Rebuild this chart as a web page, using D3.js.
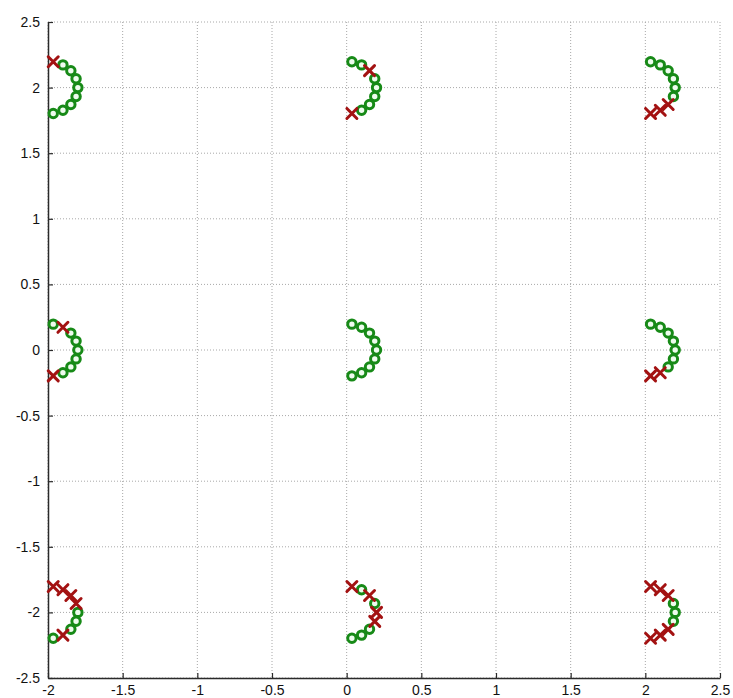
<!DOCTYPE html>
<html>
<head>
<meta charset="utf-8">
<script src="https://cdn.jsdelivr.net/npm/d3@7"></script>
<style>
  html, body { margin: 0; padding: 0; background: #fff; }
  svg { display: block; }
  .tick text { font-family: "Liberation Sans", Arial, sans-serif; font-size: 14px; fill: #111; }
</style>
</head>
<body>
<svg id="chart" width="733" height="698"></svg>
<script>
// Axis ranges and tick labels
const xTicks = [-2, -1.5, -1, -0.5, 0, 0.5, 1, 1.5, 2, 2.5];
const yTicks = [-2.5, -2, -1.5, -1, -0.5, 0, 0.5, 1, 1.5, 2, 2.5];

// Centres of the nine point groups (row by row, top to bottom)
const groupX = [-2, 0, 2, -2, 0, 2, -2, 0, 2];
const groupY = [2, 2, 2, 0, 0, 0, -2, -2, -2];

// Offsets of the nine samples on each half ring, listed from top to bottom
const offsetX = [0.035, 0.100, 0.153, 0.188, 0.200, 0.188, 0.153, 0.100, 0.035];
const offsetY = [0.197, 0.173, 0.129, 0.068, 0.000, -0.068, -0.129, -0.173, -0.197];

// Marker kind of each sample: "o" = green circle, "x" = red cross
const groupKinds = [
  ["x","o","o","o","o","o","o","o","o"],
  ["o","o","x","o","o","o","o","o","x"],
  ["o","o","o","o","o","o","x","x","x"],
  ["o","x","o","o","o","o","o","o","x"],
  ["o","o","o","o","o","o","o","o","o"],
  ["o","o","o","o","o","o","o","x","x"],
  ["x","x","x","x","o","o","o","x","o"],
  ["x","o","x","o","x","x","o","o","o"],
  ["x","x","x","o","o","o","x","x","x"]
];

const svg = d3.select("#chart");
const plotLeft = 48, plotRight = 720, plotTop = 22, plotBottom = 678;

const x = d3.scaleLinear().domain([-2, 2.5]).range([plotLeft, plotRight]);
const y = d3.scaleLinear().domain([-2.5, 2.5]).range([plotBottom, plotTop]);

// Dotted grid
const grid = svg.append("g");
grid.selectAll("line.gx").data(xTicks).join("line")
  .attr("class", "gx")
  .attr("x1", d => x(d)).attr("x2", d => x(d))
  .attr("y1", plotTop).attr("y2", plotBottom)
  .attr("stroke", "#a8a8a8").attr("stroke-width", 1)
  .attr("stroke-dasharray", "1,2");
grid.selectAll("line.gy").data(yTicks).join("line")
  .attr("class", "gy")
  .attr("x1", plotLeft).attr("x2", plotRight)
  .attr("y1", d => y(d)).attr("y2", d => y(d))
  .attr("stroke", "#a8a8a8").attr("stroke-width", 1)
  .attr("stroke-dasharray", "1,2");

// Axes with inward ticks
const fmt = d => String(d);
const xAxis = d3.axisBottom(x).tickValues(xTicks).tickSizeInner(-5).tickSizeOuter(0)
  .tickPadding(8).tickFormat(fmt);
const yAxis = d3.axisLeft(y).tickValues(yTicks).tickSizeInner(-5).tickSizeOuter(0)
  .tickPadding(8).tickFormat(fmt);

const gx = svg.append("g").attr("transform", `translate(0,${plotBottom})`).call(xAxis);
const gy = svg.append("g").attr("transform", `translate(${plotLeft},0)`).call(yAxis);
[gx, gy].forEach(g => {
  g.select(".domain").attr("stroke", "#2a2a2a").attr("stroke-width", 1.5);
  g.selectAll(".tick line").attr("stroke", "#2a2a2a").attr("stroke-width", 1.2);
});
gx.selectAll(".tick text").attr("dy", "0.62em");

// Flatten the groups into individual samples
const samples = [];
groupX.forEach((gxv, gi) => {
  groupKinds[gi].forEach((kind, k) => {
    samples.push({ px: gxv + offsetX[k], py: groupY[gi] + offsetY[k], kind });
  });
});

const marks = svg.append("g");
marks.selectAll("circle").data(samples.filter(d => d.kind === "o")).join("circle")
  .attr("cx", d => x(d.px)).attr("cy", d => y(d.py))
  .attr("r", 4.2)
  .attr("fill", "#eefcee")
  .attr("stroke", "#178a17")
  .attr("stroke-width", 3);

const s = 5;
const crosses = marks.selectAll("g.cross").data(samples.filter(d => d.kind === "x")).join("g")
  .attr("class", "cross")
  .attr("transform", d => `translate(${x(d.px)},${y(d.py)})`);
crosses.append("path")
  .attr("d", `M${-s},${-s}L${s},${s}M${-s},${s}L${s},${-s}`)
  .attr("stroke", "#a31212")
  .attr("stroke-width", 3)
  .attr("stroke-linecap", "round")
  .attr("fill", "none");
</script>
</body>
</html>
